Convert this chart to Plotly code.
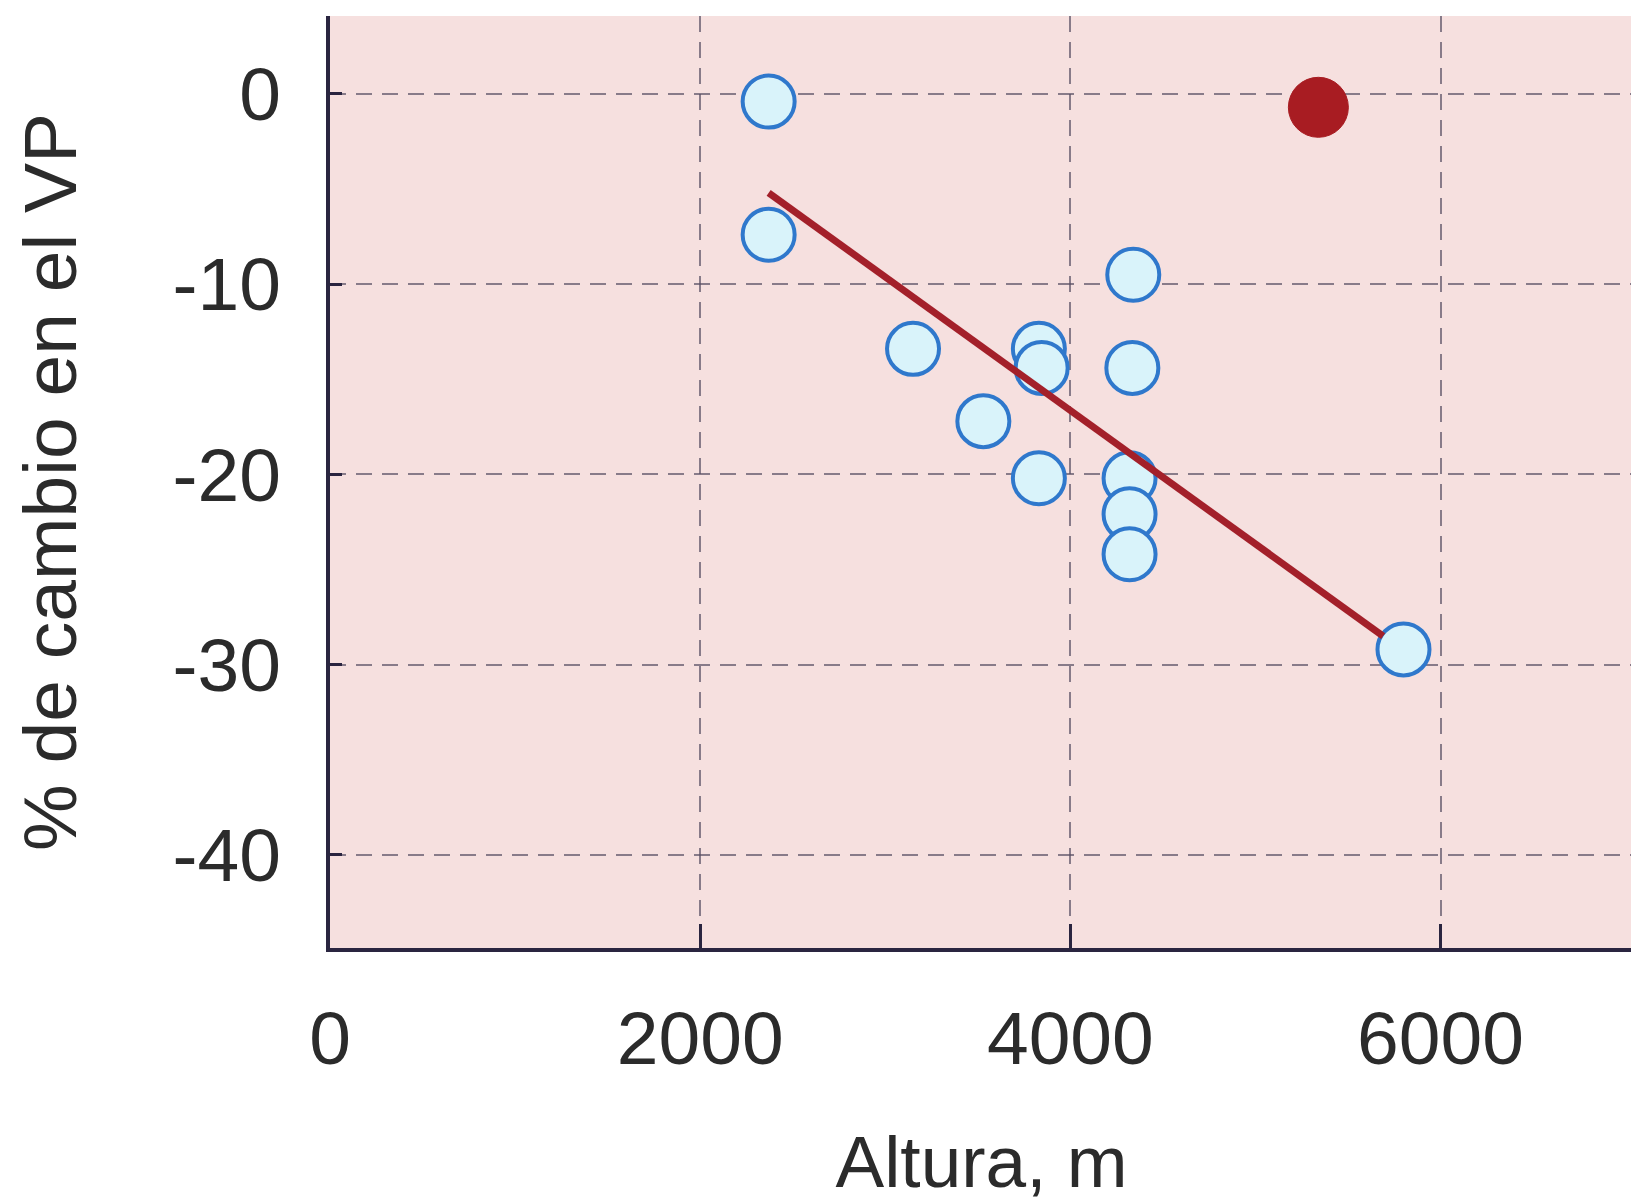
import plotly.graph_objects as go

# Datos
altura_abiertos = [2370, 2370, 4340, 3150, 3830, 3845, 4335, 3530, 3830, 4320, 4320, 4320, 5800]
cambio_abiertos = [-0.4, -7.4, -9.5, -13.4, -13.4, -14.4, -14.4, -17.2, -20.2, -20.2, -22.1, -24.2, -29.2]
altura_relleno = [5340]
cambio_relleno = [-0.7]
altura_recta = [2370, 5690]
cambio_recta = [-5.2, -28.5]

x_ticks = [0, 2000, 4000, 6000]
y_ticks = [0, -10, -20, -30, -40]

FONT = "Liberation Sans, Arial, Helvetica, sans-serif"
TXT = "#2b2b2b"

fig = go.Figure()
fig.add_trace(go.Scatter(
    x=altura_abiertos, y=cambio_abiertos, mode="markers",
    marker=dict(size=52, color="#d9f3fa", line=dict(color="#2f78cc", width=4)),
    showlegend=False, hoverinfo="x+y"))
fig.add_trace(go.Scatter(
    x=altura_relleno, y=cambio_relleno, mode="markers",
    marker=dict(size=60, color="#a81c22", line=dict(color="#a81c22", width=1)),
    showlegend=False, hoverinfo="x+y"))
fig.add_trace(go.Scatter(
    x=altura_recta, y=cambio_recta, mode="lines",
    line=dict(color="#a3202a", width=7), showlegend=False, hoverinfo="skip"))

fig.update_layout(
    width=1639, height=1199,
    margin=dict(l=322, r=14, t=8, b=259, autoexpand=False),
    paper_bgcolor="white", plot_bgcolor="#f6e0df",
    font=dict(family=FONT, size=74, color=TXT),
)
fig.update_xaxes(
    range=[0, 7040], tickvals=x_ticks, ticktext=[str(v) for v in x_ticks],
    showline=True, linecolor="#2a2540", linewidth=4,
    ticks="inside", ticklen=24, tickwidth=3, tickcolor="#2a2540",
    showgrid=True, gridcolor="rgba(90,80,100,0.7)", gridwidth=2, griddash="16px,10px",
    zeroline=False, ticklabelstandoff=22,
    title=dict(text="Altura, m", font=dict(size=73, color=TXT), standoff=58),
    tickfont=dict(size=75, color=TXT), automargin=False,
)
fig.update_yaxes(
    range=[-44.9, 4.1], tickvals=y_ticks, ticktext=[str(v) for v in y_ticks],
    showline=True, linecolor="#2a2540", linewidth=4,
    ticks="inside", ticklen=12, tickwidth=3, tickcolor="#2a2540",
    showgrid=True, gridcolor="rgba(90,80,100,0.7)", gridwidth=2, griddash="16px,10px",
    zeroline=False, ticklabelstandoff=30,
    title=dict(text="% de cambio en el VP", font=dict(size=75, color=TXT), standoff=76),
    tickfont=dict(size=75, color=TXT), automargin=False,
)

fig.write_html("out.html")
